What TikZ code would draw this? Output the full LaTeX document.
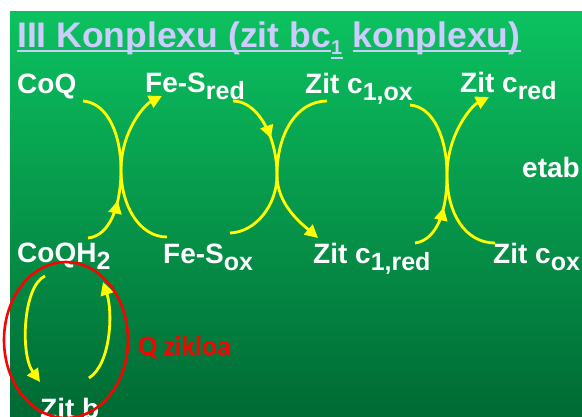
\documentclass[tikz,border=0pt]{standalone}
\usepackage{fontspec}
\setmainfont{Liberation Sans}
\newfontfamily\calfont{Carlito}
\usetikzlibrary{arrows.meta,decorations.markings}
\definecolor{cgreen}{RGB}{12,194,96}
\definecolor{cmid}{RGB}{4,176,86}
\definecolor{cdark}{RGB}{0,106,52}
\definecolor{clav}{RGB}{204,204,255}
\definecolor{cyel}{RGB}{255,255,0}
\definecolor{cred}{RGB}{255,0,0}
\newcommand{\lowsub}[1]{\raisebox{-7pt}{\fontsize{25}{25}\selectfont #1}}
\tikzset{
  slide/.style={x=1pt,y=-1pt},
  lbl/.style={text=white,font=\bfseries\fontsize{28}{30}\selectfont,inner sep=0pt,anchor=base west},
  ttl/.style={text=clav,font=\bfseries\fontsize{35.5}{38}\selectfont,inner sep=0pt,anchor=base west},
  xfer/.style={cyel,line width=2.8pt},
  endtip/.style={-{Triangle[length=13pt,width=13pt]}},
  midtip/.style={postaction={decorate},decoration={markings,mark=at position #1 with {\arrow{Triangle[length=13pt,width=13pt]}}}}
}

\begin{document}
\begin{tikzpicture}[slide]
    \useasboundingbox (0,0) rectangle (582,416);
    \fill[white] (0,0) rectangle (582,416);
    \shade[top color=cgreen,middle color=cmid,bottom color=cdark] (10,11) rectangle (582,416);
    % title
    \node[ttl] (t1) at (17,47) {III Konplexu (zit bc};
    \node[ttl,font=\bfseries\fontsize{20}{20}\selectfont] (t2) at ([yshift=-7pt]t1.base east) {1};
    \node[ttl] (t3) at ([xshift=10pt,yshift=7pt]t2.base east) {konplexu)};
    \foreach \t in {t1,t2,t3}
      \draw[clav,line width=2pt] ([yshift=-4pt]\t.base west) -- ([yshift=-4pt]\t.base east);
    % species
    \node[lbl] (coq)    at (17,93)   {CoQ};
    \node[lbl] (fesred) at (145,92)  {Fe-S\lowsub{red}};
    \node[lbl] (c1ox)   at (305,93)  {Zit c\lowsub{1,ox}};
    \node[lbl] (cred)   at (460,92)  {Zit c\lowsub{red}};
    \node[lbl] (etab)   at (522,177) {etab};
    \node[lbl] (coqh)   at (17,262)  {CoQH\lowsub{2}};
    \node[lbl] (fesox)  at (163,263) {Fe-S\lowsub{ox}};
    \node[lbl] (c1red)  at (313,263) {Zit c\lowsub{1,red}};
    \node[lbl] (cox)    at (493,263) {Zit c\lowsub{ox}};
    \node[lbl] (zitb)   at (40,418)  {Zit b};
    \node[text=cred,font=\calfont\bfseries\fontsize{28}{30}\selectfont,inner sep=0pt,anchor=base west] (qcyc) at (138,355) {Q zikloa};
    % crossings and free ends
    \coordinate (k1) at (121,170);
    \coordinate (k2) at (277,175);
    \coordinate (k3) at (447,175);
    \coordinate (a0) at (83,101);  \coordinate (a1) at (167,237);
    \coordinate (b0) at (88,238);  \coordinate (b1) at (162,96);
    \coordinate (c0) at (233,101); \coordinate (c1) at (318,238);
    \coordinate (d0) at (230,233); \coordinate (d1) at (327,101);
    \coordinate (e0) at (410,105); \coordinate (e1) at (495,243);
    \coordinate (f0) at (415,243); \coordinate (f1) at (489,97);
    \coordinate (g0) at (45,276);  \coordinate (g1) at (40,382);
    \coordinate (h0) at (89,378);  \coordinate (h1) at (103,282);
    % electron transfer
    \draw[xfer] (a0) .. controls +(25,2) and +(0,-35) .. (k1) .. controls +(0,35) and +(-28,0) .. (a1);
    \draw[xfer,endtip,midtip=0.3] (b0) .. controls +(22,-2) and +(0,35) .. (k1) .. controls +(0,-38) and +(-18,9) .. (b1);
    \draw[xfer,endtip,midtip=0.33] (c0) .. controls +(25,0) and +(0,-38) .. (k2) .. controls +(0,30) and +(-16,-14) .. (c1);
    \draw[xfer] (d0) .. controls +(26,-1) and +(0,30) .. (k2) .. controls +(0,-42) and +(-30,0) .. (d1);
    \draw[xfer] (e0) .. controls +(24,2) and +(0,-36) .. (k3) .. controls +(0,38) and +(-30,0) .. (e1);
    \draw[xfer,endtip,midtip=0.28] (f0) .. controls +(22,-3) and +(0,36) .. (k3) .. controls +(0,-40) and +(-18,9) .. (f1);
    % Q cycle
    \draw[xfer,endtip] (g0) .. controls +(-22,10) and +(-20,-28) .. (g1);
    \draw[xfer,endtip] (h0) .. controls +(22,-14) and +(10,30) .. (h1);
    \draw[cred,line width=2.6pt] (66,340) ellipse [x radius=62pt,y radius=78pt];
\end{tikzpicture}
\end{document}
